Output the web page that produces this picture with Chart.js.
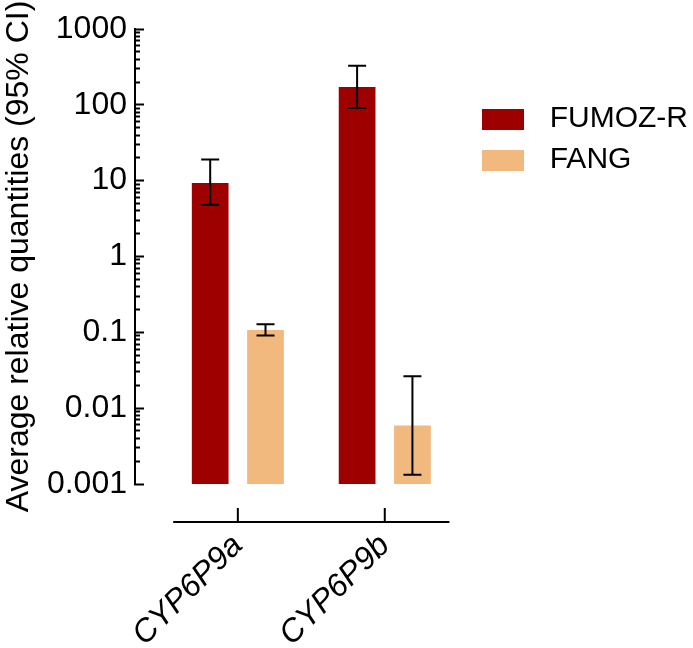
<!DOCTYPE html>
<html>
<head>
<meta charset="utf-8">
<script src="https://cdn.jsdelivr.net/npm/chart.js@4"></script>
<style>
  html, body { margin: 0; padding: 0; background: #fff; }
  #wrap { width: 693px; height: 648px; }
</style>
</head>
<body>
<div id="wrap"><canvas id="c1"></canvas></div>
<script>
// genes on the x axis
var categories = ['CYP6P9a', 'CYP6P9b'];
// FUMOZ-R - average relative quantity and 95% CI
var fumoz = [9.3, 172];
var fumozLow = [4.8, 91];
var fumozHigh = [19, 328];
// FANG
var fang = [0.107, 0.0059];
var fangLow = [0.091, 0.00132];
var fangHigh = [0.128, 0.0264];
// log axis labels
var yTickLabels = ['0.001', '0.01', '0.1', '1', '10', '100', '1000'];

var font = 'Liberation Sans, Arial, Helvetica, sans-serif';
Chart.defaults.font.family = font;
Chart.defaults.color = '#000';

function isDecade(v) {
  var l = Math.log10(v);
  return Math.abs(l - Math.round(l)) < 1e-9;
}

// major ticks at the decades, minor ones at 2..9
function buildYTicks() {
  var t = [];
  for (var i = 0; i < yTickLabels.length; i++) {
    var v = parseFloat(yTickLabels[i]);
    t.push({value: v});
    if (i < yTickLabels.length - 1) {
      for (var k = 2; k <= 9; k++) t.push({value: +(v * k).toPrecision(3)});
    }
  }
  return t;
}

// small canvas used as the legend swatch
function swatch(color) {
  var c = document.createElement('canvas');
  c.width = 42;
  c.height = 21;
  var g = c.getContext('2d');
  g.fillStyle = color;
  g.fillRect(0, 0, c.width, c.height);
  return c;
}

// error bars from the CI arrays
var errorBars = {
  id: 'errorBars',
  afterDatasetsDraw: function(chart) {
    var ctx = chart.ctx, y = chart.scales.y;
    chart.data.datasets.forEach(function(ds, d) {
      var meta = chart.getDatasetMeta(d);
      meta.data.forEach(function(bar, i) {
        var top = y.getPixelForValue(ds.high[i]);
        var bot = y.getPixelForValue(ds.low[i]);
        ctx.save();
        ctx.strokeStyle = '#000';
        ctx.lineWidth = 2;
        ctx.beginPath();
        ctx.moveTo(bar.x, top); ctx.lineTo(bar.x, bot);
        ctx.moveTo(bar.x - 9, top); ctx.lineTo(bar.x + 9, top);
        ctx.moveTo(bar.x - 9, bot); ctx.lineTo(bar.x + 9, bot);
        ctx.stroke();
        ctx.restore();
      });
    });
  }
};

// detached x axis line under the plot
var xAxisLine = {
  id: 'xAxisLine',
  afterDraw: function(chart) {
    var x = chart.scales.x, ctx = chart.ctx;
    var yLine = chart.chartArea.bottom + 38;
    ctx.save();
    ctx.strokeStyle = '#000';
    ctx.lineWidth = 2;
    ctx.beginPath();
    ctx.moveTo(x.getPixelForValue(-0.44), yLine);
    ctx.lineTo(x.getPixelForValue(categories.length - 1 + 0.44), yLine);
    categories.forEach(function(c, i) {
      var px = x.getPixelForValue(i);
      ctx.moveTo(px, yLine);
      ctx.lineTo(px, yLine - 14);
    });
    ctx.stroke();
    ctx.restore();
  }
};

var ctx = document.getElementById('c1').getContext('2d');
var chart1 = new Chart(ctx, {
  type: 'bar',
  data: {
    datasets: [{
      label: 'FUMOZ-R',
      data: categories.map(function(c, i) { return {x: i, y: fumoz[i]}; }),
      backgroundColor: '#9E0000',
      low: fumozLow,
      high: fumozHigh
    }, {
      label: 'FANG',
      data: categories.map(function(c, i) { return {x: i, y: fang[i]}; }),
      backgroundColor: '#F2B97F',
      low: fangLow,
      high: fangHigh
    }]
  },
  options: {
    responsive: true,
    maintainAspectRatio: false,
    animation: false,
    categoryPercentage: 0.753,
    barPercentage: 0.664,
    layout: { padding: { top: 29, right: -5, bottom: 0, left: 0 } },
    plugins: {
      tooltip: { enabled: false },
      legend: {
        position: 'right',
        align: 'start',
        maxWidth: 320,
        title: { display: true, text: '', font: { size: 10 }, padding: { top: 52, bottom: 0 } },
        labels: {
          usePointStyle: true,
          pointStyleWidth: 64,
          padding: 11,
          color: '#000',
          font: { family: font, size: 30 },
          generateLabels: function(chart) {
            return Chart.defaults.plugins.legend.labels.generateLabels(chart).map(function(it, i) {
              it.pointStyle = swatch(chart.data.datasets[i].backgroundColor);
              return it;
            });
          }
        }
      }
    },
    scales: {
      x: {
        type: 'linear',
        offset: false,
        min: -0.70,
        max: 1.51,
        afterBuildTicks: function(s) {
          s.ticks = categories.map(function(c, i) { return {value: i}; });
        },
        afterFit: function(s) { s.height = 164; },
        grid: { display: false },
        border: { display: false },
        ticks: {
          autoSkip: false,
          minRotation: 45,
          maxRotation: 45,
          padding: 35,
          color: '#000',
          font: { family: font, size: 32, style: 'italic' },
          callback: function(v) { return categories[v]; }
        }
      },
      y: {
        type: 'logarithmic',
        min: 0.001,
        max: 1000,
        afterBuildTicks: function(s) { s.ticks = buildYTicks(); },
        afterFit: function(s) {
          s.width = 135;
          s.paddingTop = 0;
          s.paddingBottom = 0;
        },
        border: { display: true, color: '#000', width: 2 },
        grid: {
          drawOnChartArea: false,
          drawTicks: true,
          tickLength: -9,
          tickWidth: 2,
          tickColor: '#000',
          tickBorderDash: function(c) {
            return c.tick && isDecade(c.tick.value) ? [] : [0, 4, 100, 0];
          }
        },
        ticks: {
          autoSkip: false,
          padding: 17,
          color: '#000',
          font: { family: font, size: 32 },
          callback: function(v) {
            if (!isDecade(v)) return '';
            for (var i = 0; i < yTickLabels.length; i++) {
              if (Math.abs(parseFloat(yTickLabels[i]) - v) < v * 1e-6) return yTickLabels[i];
            }
            return '';
          }
        },
        title: {
          display: true,
          text: 'Average relative quantities (95% CI)',
          color: '#000',
          font: { family: font, size: 32 },
          padding: 0
        }
      }
    }
  },
  plugins: [errorBars, xAxisLine]
});
</script>
</body>
</html>
